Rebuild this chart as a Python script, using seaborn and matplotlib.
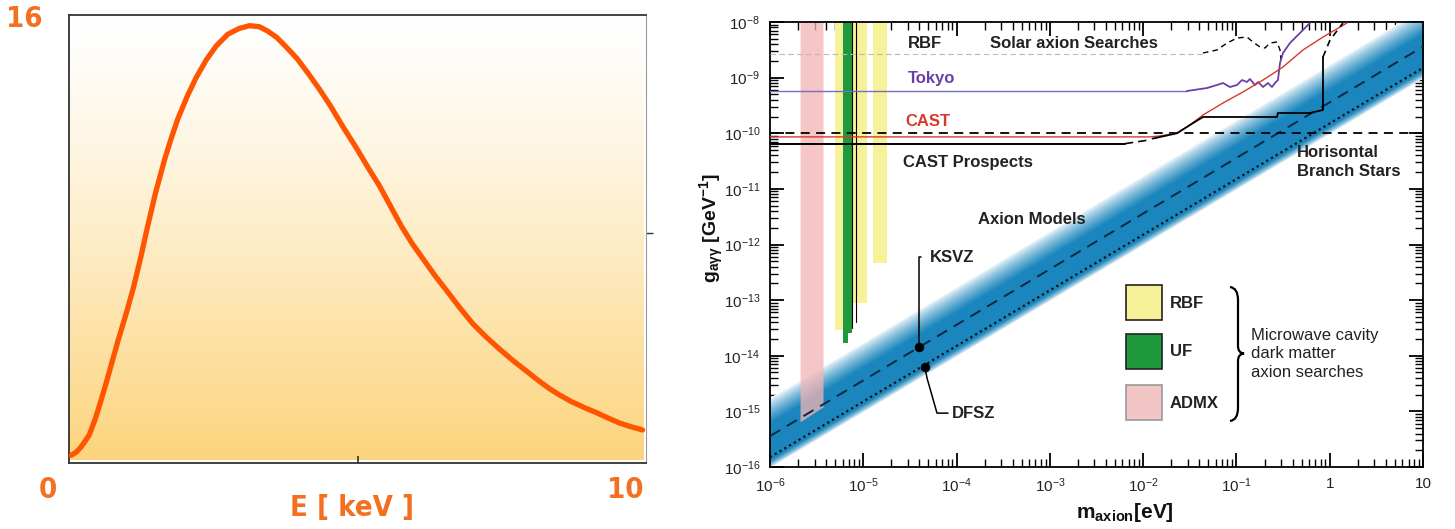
import numpy as np
import pandas as pd
import matplotlib
matplotlib.use("Agg")
import matplotlib.pyplot as plt
from matplotlib.patches import Rectangle, PathPatch
from matplotlib.path import Path
from matplotlib.colors import to_rgb
import matplotlib.ticker as mticker
import seaborn as sns

# ---------------- data: left panel (solar axion spectrum) ----------------
energy_kev = [0.04, 0.12, 0.20, 0.28, 0.35, 0.46, 0.55, 0.65, 0.85, 1.00, 1.12, 1.25, 1.35,
              1.50, 1.66, 1.78, 1.89, 2.05, 2.20, 2.38, 2.55, 2.75, 2.95, 3.13, 3.30, 3.44,
              3.60, 3.75, 3.95, 4.14, 4.33, 4.52, 4.75, 4.99, 5.18, 5.38, 5.57, 5.76, 5.95,
              6.15, 6.34, 6.54, 6.77, 7.00, 7.23, 7.46, 7.70, 7.93, 8.12, 8.31, 8.50, 8.70,
              8.93, 9.16, 9.35, 9.55, 9.75, 9.94]
flux = [0.28, 0.38, 0.55, 0.78, 1.00, 1.60, 2.20, 2.90, 4.37, 5.40, 6.29, 7.40, 8.34,
        9.65, 10.86, 11.65, 12.31, 13.10, 13.75, 14.40, 14.89, 15.31, 15.52, 15.62, 15.58, 15.43,
        15.20, 14.89, 14.45, 13.93, 13.38, 12.79, 12.00, 11.22, 10.56, 9.90, 9.18, 8.46, 7.83,
        7.25, 6.70, 6.17, 5.55, 4.97, 4.50, 4.07, 3.65, 3.28, 2.97, 2.68, 2.43, 2.20,
        1.98, 1.78, 1.60, 1.42, 1.29, 1.18]
left_xticks = [0, 10]
left_ylabel_max = "16"
left_xlabel = "E [ keV ]"

# ---------------- data: right panel (axion exclusion plot) ----------------
x_ticks = [1e-6, 1e-5, 1e-4, 1e-3, 1e-2, 1e-1, 1, 10]
x_ticklabels = [r"$\mathregular{10^{-6}}$", r"$\mathregular{10^{-5}}$", r"$\mathregular{10^{-4}}$",
                r"$\mathregular{10^{-3}}$", r"$\mathregular{10^{-2}}$", r"$\mathregular{10^{-1}}$",
                "1", "10"]
y_ticks = [1e-16, 1e-15, 1e-14, 1e-13, 1e-12, 1e-11, 1e-10, 1e-9, 1e-8]
y_ticklabels = [r"$\mathregular{10^{-%d}}$" % k for k in range(16, 7, -1)]

# axion model band
band_m = [1e-6, 10.0]
ksvz_g = [3.6e-16, 3.6e-9]
dfsz_g = [1.5e-16, 1.5e-9]

# solar searches (RBF gray + black dashed)
rbf_solar_m = [1e-6, 0.0438]
rbf_solar_g = [2.66e-9, 2.66e-9]
solar_m = [0.0438, 0.0618, 0.0793, 0.1014, 0.1297, 0.1503, 0.1786, 0.2023, 0.2291, 0.2723, 0.2931, 0.3006]
solar_g = [2.77e-9, 3.14e-9, 4.19e-9, 5.15e-9, 5.37e-9, 4.37e-9, 3.56e-9, 3.41e-9, 4.19e-9, 4.37e-9, 3.14e-9, 2.07e-9]

# Tokyo
tokyo_flat_m = [1e-6, 0.0295]
tokyo_flat_g = [5.75e-10, 5.75e-10]
tokyo_m = [0.0295, 0.0483, 0.0618, 0.0718, 0.0853, 0.1014, 0.1148, 0.1297, 0.1396, 0.1581, 0.1702,
           0.1928, 0.2178, 0.2404, 0.2588, 0.2786, 0.2931, 0.3155, 0.3750, 0.4797, 0.6138]
tokyo_g = [5.75e-10, 6.50e-10, 7.36e-10, 8.0e-10, 6.78e-10, 7.36e-10, 9.05e-10, 8.34e-10, 9.44e-10,
           7.36e-10, 8.34e-10, 6.78e-10, 8.0e-10, 6.78e-10, 8.0e-10, 9.05e-10, 1.83e-9, 2.77e-9,
           4.19e-9, 6.34e-9, 9.59e-9]

# CAST
cast_m = [1e-6, 0.0118, 0.0151, 0.0231, 0.0318, 0.0438, 0.0718, 0.1175, 0.1928, 0.3155, 0.5164, 0.8472, 1.531]
cast_g = [8.6e-11, 8.6e-11, 8.93e-11, 1.01e-10, 1.41e-10, 2.13e-10, 3.50e-10, 5.52e-10, 9.05e-10,
          1.55e-9, 3.14e-9, 5.37e-9, 9.59e-9]

# CAST prospects
castp_flat_m = [1e-6, 0.00638]
castp_flat_g = [6.4e-11, 6.4e-11]
castp_gap_m = [0.00638, 0.0118]
castp_gap_g = [6.5e-11, 7.6e-11]
castp_m = [0.0126, 0.0231, 0.0318, 0.0438, 0.2723, 0.2786, 0.6138, 0.8472, 0.8472]
castp_g = [8.0e-11, 1.0e-10, 1.41e-10, 1.96e-10, 1.96e-10, 2.31e-10, 2.31e-10, 2.62e-10, 2.35e-9]
castp_tail_m = [0.8472, 1.007, 1.387]
castp_tail_g = [2.35e-9, 4.74e-9, 9.59e-9]

# horizontal branch stars
hb_m = [1e-6, 10.0]
hb_g = [1e-10, 1e-10]

# microwave cavity searches: (m_low, m_high, g_bottom_left, g_bottom_right)
admx_bars = [(2.1e-6, 3.7e-6, 6.5e-16, 1.2e-15)]
rbf_bars = [(5.0e-6, 6.0e-6, 2.9e-14, 2.9e-14), (7.6e-6, 1.1e-5, 9e-14, 9e-14),
            (1.27e-5, 1.8e-5, 4.7e-13, 4.7e-13)]
uf_bars = [(6.0e-6, 6.8e-6, 1.7e-14, 1.7e-14), (6.8e-6, 7.6e-6, 2.6e-14, 2.6e-14)]
uf_edges_m = [7.6e-6, 8.3e-6]
uf_edges_gbottom = [3.2e-14, 4.0e-14]

ksvz_point = (3.96e-5, 1.43e-14)
ksvz_leader_m = [4.15e-5, 3.96e-5, 3.96e-5]
ksvz_leader_g = [5.93e-13, 5.93e-13, 1.43e-14]
dfsz_point = (4.58e-5, 6.24e-15)
dfsz_leader_m = [4.58e-5, 4.82e-5, 6.17e-5, 8.09e-5]
dfsz_leader_g = [6.24e-15, 3.98e-15, 9.3e-16, 9.3e-16]

legend_labels = ["RBF", "UF", "ADMX"]

# ---------------- styling ----------------
sns.set_theme(style="white")
plt.rcParams["font.family"] = ["Liberation Sans", "DejaVu Sans"]
plt.rcParams["mathtext.fontset"] = "custom"
plt.rcParams["mathtext.rm"] = "Liberation Sans"
plt.rcParams["mathtext.it"] = "Liberation Sans:italic"
plt.rcParams["mathtext.bf"] = "Liberation Sans:bold"

ORANGE_TXT = "#F37021"
CURVE = "#FF5500"
YELLOW = "#F6F29A"
GREEN = "#1E9A3C"
PINK = "#F4B4B4"
PURPLE = "#6A40A8"
RED = "#D8392B"
CORE = np.array(to_rgb("#1a86bd"))
WHITE = np.array([1.0, 1.0, 1.0])

W, H = 1455, 529
fig = plt.figure(figsize=(W / 100, H / 100), dpi=100)
fig.patch.set_facecolor("white")

# ============ left panel ============
axL = fig.add_axes([69 / W, 66 / H, 577 / W, 448 / H])
top_c = np.array(to_rgb("#FFFFFF"))
bot_c = np.array(to_rgb("#FCD47C"))
t = np.linspace(0, 1, 256) ** 1.25
grad = (top_c[None, :] * (1 - t[:, None]) + bot_c[None, :] * t[:, None])[:, None, :]
axL.imshow(grad, extent=[0, 9.95, 0.1, 16], aspect="auto", zorder=0, interpolation="bilinear")
df_left = pd.DataFrame({"E": energy_kev, "flux": flux})
sns.lineplot(data=df_left, x="E", y="flux", ax=axL, color=CURVE, linewidth=3.8,
             estimator=None, sort=False, zorder=3, solid_capstyle="round", solid_joinstyle="round")
axL.set_xlim(0, 10)
axL.set_ylim(0, 16)
axL.set_xlabel("")
axL.set_ylabel("")
axL.set_xticks([5])
axL.set_xticklabels([])
axL.tick_params(axis="x", direction="in", length=5, width=1.2, color="#333333", bottom=True)
axL.yaxis.tick_right()
axL.set_yticks([8.2])
axL.set_yticklabels([])
axL.tick_params(axis="y", direction="out", length=5, width=1.0, color="#333333", right=True, left=False)
for s in axL.spines.values():
    s.set_color("#333333")
    s.set_linewidth(1.3)
axL.spines["right"].set_color("#9a9a9a")
axL.spines["right"].set_linewidth(0.8)

lfont = dict(family=["DejaVu Sans"], fontstretch="condensed", fontweight="bold", color=ORANGE_TXT)
fig.text(24 / W, 1 - 19 / H, left_ylabel_max, fontsize=21, ha="center", va="center", **lfont)
fig.text(48 / W, 1 - 490 / H, str(left_xticks[0]), fontsize=21, ha="center", va="center", **lfont)
fig.text(625 / W, 1 - 490 / H, str(left_xticks[1]), fontsize=21, ha="center", va="center", **lfont)
fig.text(352 / W, 1 - 508 / H, left_xlabel, fontsize=21, ha="center", va="center", **lfont)

# ============ right panel ============
axR = fig.add_axes([770 / W, 62 / H, 653 / W, 445 / H])
axR.set_xscale("log")
axR.set_yscale("log")
axR.set_xlim(1e-6, 10)
axR.set_ylim(1e-16, 1e-8)

# axion band, layered gradient (outermost first)
bm = np.array(band_m)
kg = np.array(ksvz_g)
dg = np.array(dfsz_g)
nlay = 30
for i in range(nlay + 1):
    s = i / nlay
    top_off = 0.24 + 0.46 * (1 - s)
    bot_off = 0.04 + 0.14 * (1 - s)
    f = s ** 0.75
    col = WHITE * (1 - f) + CORE * f
    axR.fill_between(bm, dg * 10 ** (-bot_off), kg * 10 ** top_off, color=col, linewidth=0, zorder=1)

# microwave cavity bars
for (m0, m1, g0, g1) in rbf_bars:
    axR.fill_between([m0, m1], [g0, g1], [1e-8, 1e-8], color=YELLOW, linewidth=0, zorder=2)
for (m0, m1, g0, g1) in uf_bars:
    axR.fill_between([m0, m1], [g0, g1], [1e-8, 1e-8], color=GREEN, linewidth=0, zorder=2.1)
for (m0, m1, g0, g1) in admx_bars:
    axR.fill_between([m0, m1], [g0, g1], [1e-8, 1e-8], color=PINK, alpha=0.75, linewidth=0, zorder=2.2)
for m, gb in zip(uf_edges_m, uf_edges_gbottom):
    sns.lineplot(x=[m, m], y=[gb, 1e-8], ax=axR, color="black", linewidth=0.8,
                 estimator=None, sort=False, zorder=3)

# model lines
sns.lineplot(x=band_m, y=ksvz_g, ax=axR, color="#0d2745", linewidth=1.4, linestyle=(0, (6, 4)),
             estimator=None, zorder=4)
sns.lineplot(x=band_m, y=dfsz_g, ax=axR, color="#111111", linewidth=1.6, linestyle=(0, (1, 1.5)),
             estimator=None, zorder=4)

# limits
sns.lineplot(x=rbf_solar_m, y=rbf_solar_g, ax=axR, color="#b8b8b8", linewidth=0.8,
             linestyle=(0, (5, 3)), estimator=None, zorder=4)
sns.lineplot(x=solar_m, y=solar_g, ax=axR, color="black", linewidth=1.0,
             linestyle=(0, (4, 3)), estimator=None, sort=False, zorder=4)
sns.lineplot(x=tokyo_flat_m, y=tokyo_flat_g, ax=axR, color="#7a6cc0", linewidth=1.0,
             estimator=None, zorder=4)
sns.lineplot(x=tokyo_m, y=tokyo_g, ax=axR, color=PURPLE, linewidth=1.3,
             estimator=None, sort=False, zorder=4)
sns.lineplot(x=cast_m, y=cast_g, ax=axR, color=RED, linewidth=1.0,
             estimator=None, sort=False, zorder=4.2)
sns.lineplot(x=hb_m, y=hb_g, ax=axR, color="black", linewidth=1.3,
             linestyle=(0, (5, 3.5)), estimator=None, zorder=4.1)
sns.lineplot(x=castp_flat_m, y=castp_flat_g, ax=axR, color="black", linewidth=1.4,
             estimator=None, zorder=4.3)
sns.lineplot(x=castp_gap_m, y=castp_gap_g, ax=axR, color="black", linewidth=1.2,
             linestyle=(0, (5, 3)), estimator=None, zorder=4.3)
sns.lineplot(x=castp_m, y=castp_g, ax=axR, color="black", linewidth=1.3,
             estimator=None, sort=False, zorder=4.3)
sns.lineplot(x=castp_tail_m, y=castp_tail_g, ax=axR, color="black", linewidth=1.2,
             linestyle=(0, (4, 3)), estimator=None, sort=False, zorder=4.3)

# KSVZ / DFSZ markers with leaders
sns.lineplot(x=ksvz_leader_m, y=ksvz_leader_g, ax=axR, color="black", linewidth=1.1,
             estimator=None, sort=False, zorder=5)
sns.lineplot(x=dfsz_leader_m, y=dfsz_leader_g, ax=axR, color="black", linewidth=1.1,
             estimator=None, sort=False, zorder=5)
sns.scatterplot(x=[ksvz_point[0], dfsz_point[0]], y=[ksvz_point[1], dfsz_point[1]], ax=axR,
                color="black", s=40, edgecolor="black", zorder=6)

axR.set_xlabel("")
axR.set_ylabel("")

# ticks
axR.xaxis.set_major_locator(mticker.FixedLocator(x_ticks))
axR.xaxis.set_major_formatter(mticker.FixedFormatter(x_ticklabels))
axR.yaxis.set_major_locator(mticker.FixedLocator(y_ticks))
axR.yaxis.set_major_formatter(mticker.FixedFormatter(y_ticklabels))
axR.xaxis.set_minor_locator(mticker.LogLocator(base=10, subs=np.arange(2, 10), numticks=20))
axR.yaxis.set_minor_locator(mticker.LogLocator(base=10, subs=np.arange(2, 10), numticks=20))
axR.xaxis.set_minor_formatter(mticker.NullFormatter())
axR.yaxis.set_minor_formatter(mticker.NullFormatter())
axR.tick_params(which="both", direction="in", top=True, right=True, bottom=True, left=True,
                colors="black")
axR.tick_params(which="major", length=10, width=1.3, labelsize=11, pad=7, labelcolor="#222222")
axR.tick_params(which="minor", length=6, width=1.0)
for s in axR.spines.values():
    s.set_color("black")
    s.set_linewidth(1.3)

def P(px, py):
    return ((px - 770) / 653, (467 - py) / 445)

tk = dict(transform=axR.transAxes, fontsize=12, fontweight="bold", va="center", ha="left", zorder=7)
axR.text(*P(908, 43), "RBF", color="#222222", **tk)
axR.text(*P(990, 43), "Solar axion Searches", color="#222222", **tk)
axR.text(*P(908, 78), "Tokyo", color=PURPLE, **tk)
axR.text(*P(905, 122), "CAST", color=RED, **tk)
axR.text(*P(903, 163), "CAST Prospects", color="#222222", **tk)
axR.text(*P(1297, 162), "Horisontal\nBranch Stars", color="#222222", linespacing=1.3, **tk)
axR.text(*P(978, 220), "Axion Models", color="#222222", **tk)
axR.text(*P(930, 257), "KSVZ", color="#222222", **tk)
axR.text(*P(952, 414), "DFSZ", color="#222222", **tk)

# custom legend
leg_cols = [YELLOW, GREEN, "#F3C6C6"]
leg_edges = ["#222222", "#222222", "#999999"]
leg_tops = [285, 334, 385]
for lab, c, ec, ty in zip(legend_labels, leg_cols, leg_edges, leg_tops):
    x0, y0 = P(1126, ty + 35)
    axR.add_patch(Rectangle((x0, y0), 36 / 653, 35 / 445, transform=axR.transAxes,
                            facecolor=c, edgecolor=ec, linewidth=1.2, zorder=7))
    axR.text(*P(1170, ty + 18), lab, color="#222222", **tk)

# brace
bpx = [(1230, 287), (1238, 288), (1238, 300), (1238, 346), (1238, 353), (1244, 353.5),
       (1238, 354), (1238, 361), (1238, 408), (1238, 420), (1230, 421)]
verts = [P(*p) for p in bpx]
codes = [Path.MOVETO, Path.CURVE3, Path.CURVE3, Path.LINETO, Path.CURVE3, Path.CURVE3,
         Path.CURVE3, Path.CURVE3, Path.LINETO, Path.CURVE3, Path.CURVE3]
axR.add_patch(PathPatch(Path(verts, codes), transform=axR.transAxes, facecolor="none",
                        edgecolor="black", linewidth=1.6, zorder=7))
axR.text(*P(1251, 354), "Microwave cavity\ndark matter\naxion searches", color="#222222",
         linespacing=1.3, transform=axR.transAxes, fontsize=12, fontweight="normal",
         va="center", ha="left", zorder=7)

# axis labels
fig.text(712 / W, 1 - 228 / H, r"$\mathregular{g_{a\gamma\gamma}\ [GeV^{-1}]}$", rotation=90,
         fontsize=14, ha="center", va="center", color="#111111", fontweight="bold")
fig.text(1125 / W, 1 - 512 / H, r"$\mathregular{m_{axion}[eV]}$", fontsize=15,
         ha="center", va="center", color="#111111", fontweight="bold")

fig.savefig("out.png", dpi=100, facecolor="white")
